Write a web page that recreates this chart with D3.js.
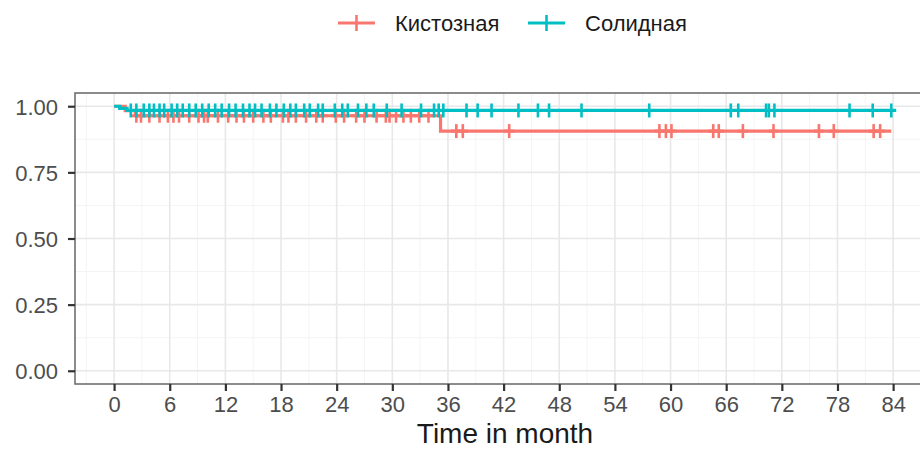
<!DOCTYPE html>
<html>
<head>
<meta charset="utf-8">
<script src="https://cdn.jsdelivr.net/npm/d3@7"></script>
<style>
  body { margin: 0; background: #fff; }
  text { font-family: "Liberation Sans", Arial, sans-serif; }
</style>
</head>
<body>
<div id="chart"></div>
<script>
// groups and colours
var groups = ["Кистозная", "Солидная"];
var colors = ["#F8766D", "#00BFC4"];

// survival steps (time, survival) per group
var cystT = [0, 1.2, 2.3, 35.2];
var cystS = [1, 0.983, 0.964, 0.906];
var cystEnd = 83.8;
var solidT = [0, 0.6, 1.4];
var solidS = [1, 0.992, 0.984];
var solidEnd = 84.3;

// censor times
var cystCens = [2.4, 2.9, 3.8, 4.9, 5.8, 6.4, 7.0, 8.1, 9.1, 9.7, 10.1, 11.2, 12.3, 13.2, 14.0,
  15.0, 16.1, 16.9, 18.2, 18.8, 19.6, 20.7, 21.8, 22.5, 23.9, 24.8, 26.1, 27.0, 28.3, 29.3,
  29.7, 30.4, 31.2, 32.0, 32.9, 33.9, 36.9, 37.6, 42.6, 58.8, 59.5, 60.1, 64.6, 65.2, 67.8,
  71.1, 76.0, 77.6, 81.9, 82.6];
var solidCens = [1.8, 2.4, 3.2, 3.8, 4.3, 4.9, 5.4, 6.2, 6.8, 7.4, 8.1, 8.8, 9.5, 10.2, 10.9,
  11.6, 12.4, 13.1, 13.9, 14.6, 15.2, 15.9, 16.8, 17.5, 18.3, 19.0, 19.6, 20.5, 21.1, 22.0,
  22.5, 23.8, 24.6, 25.2, 26.3, 27.2, 28.0, 29.4, 31.0, 33.1, 34.5, 35.0, 35.5, 38.0, 39.2,
  40.7, 43.6, 45.7, 46.9, 50.4, 57.7, 66.5, 67.3, 70.3, 70.6, 71.2, 79.3, 81.8, 83.8];

var xTicks = d3.range(0, 85, 6);
var yTicks = [0, 0.25, 0.5, 0.75, 1];

var W = 920, H = 450;
var panel = {left: 75, top: 93, right: 935, bottom: 384};

var svg = d3.select("#chart").append("svg")
    .attr("width", W).attr("height", H);

var x = d3.scaleLinear().domain([-4.215, 88.515]).range([panel.left, panel.right]);
var y = d3.scaleLinear().domain([-0.05, 1.05]).range([panel.bottom, panel.top]);

// grid
var minorX = d3.range(-3, 90, 6), minorY = [0.125, 0.375, 0.625, 0.875];
var grid = svg.append("g");
grid.selectAll(".mx").data(minorX).enter().append("line")
  .attr("x1", d => x(d)).attr("x2", d => x(d))
  .attr("y1", panel.top).attr("y2", panel.bottom)
  .attr("stroke", "#F4F4F4").attr("stroke-width", 1);
grid.selectAll(".my").data(minorY).enter().append("line")
  .attr("y1", d => y(d)).attr("y2", d => y(d))
  .attr("x1", panel.left).attr("x2", panel.right)
  .attr("stroke", "#F4F4F4").attr("stroke-width", 1);
grid.selectAll(".gx").data(xTicks).enter().append("line")
  .attr("x1", d => x(d)).attr("x2", d => x(d))
  .attr("y1", panel.top).attr("y2", panel.bottom)
  .attr("stroke", "#E8E8E8").attr("stroke-width", 1.6);
grid.selectAll(".gy").data(yTicks).enter().append("line")
  .attr("y1", d => y(d)).attr("y2", d => y(d))
  .attr("x1", panel.left).attr("x2", panel.right)
  .attr("stroke", "#E8E8E8").attr("stroke-width", 1.6);

// curves
function survAt(T, S, t) {
  var s = S[0];
  for (var i = 0; i < T.length; i++) if (T[i] <= t) s = S[i];
  return s;
}
function stepPts(T, S, end) {
  var pts = [];
  T.forEach(function(t, i) { pts.push([t, S[i]]); });
  pts.push([end, S[S.length - 1]]);
  return pts;
}
var series = [
  {pts: stepPts(cystT, cystS, cystEnd), cens: cystCens.map(t => [t, survAt(cystT, cystS, t)]), color: colors[0]},
  {pts: stepPts(solidT, solidS, solidEnd), cens: solidCens.map(t => [t, survAt(solidT, solidS, t)]), color: colors[1]}
];
var line = d3.line().x(d => x(d[0])).y(d => y(d[1])).curve(d3.curveStepAfter);

series.forEach(function(s) {
  var g = svg.append("g");
  g.append("path").datum(s.pts).attr("d", line)
    .attr("fill", "none").attr("stroke", s.color).attr("stroke-width", 3.2);
  g.selectAll(".cv").data(s.cens).enter().append("line")
    .attr("x1", d => x(d[0])).attr("x2", d => x(d[0]))
    .attr("y1", d => y(d[1]) - 7).attr("y2", d => y(d[1]) + 7)
    .attr("stroke", s.color).attr("stroke-width", 2.6);
  g.selectAll(".ch").data(s.cens).enter().append("line")
    .attr("x1", d => x(d[0]) - 5).attr("x2", d => x(d[0]) + 5)
    .attr("y1", d => y(d[1])).attr("y2", d => y(d[1]))
    .attr("stroke", s.color).attr("stroke-width", 3);
});

// panel border
svg.append("rect")
  .attr("x", panel.left).attr("y", panel.top)
  .attr("width", panel.right - panel.left).attr("height", panel.bottom - panel.top)
  .attr("fill", "none").attr("stroke", "#666").attr("stroke-width", 1.5);

// axes
var xAxis = svg.append("g").attr("transform", "translate(0," + panel.bottom + ")")
  .call(d3.axisBottom(x).tickValues(xTicks).tickSize(7).tickPadding(5));
var yAxis = svg.append("g").attr("transform", "translate(" + panel.left + ",0)")
  .call(d3.axisLeft(y).tickValues(yTicks).tickFormat(d3.format(".2f")).tickSize(7).tickPadding(10));
[xAxis, yAxis].forEach(function(a) {
  a.select(".domain").remove();
  a.selectAll(".tick line").attr("stroke", "#333").attr("stroke-width", 2.2);
  a.selectAll(".tick text").attr("fill", "#4D4D4D")
    .style("font-size", "22px").style("font-family", "'Liberation Sans', Arial, sans-serif");
});
yAxis.selectAll(".tick text").attr("dy", "0.36em");

svg.append("text")
  .attr("x", (panel.left + panel.right) / 2).attr("y", 443)
  .attr("text-anchor", "middle").attr("fill", "#1a1a1a")
  .style("font-size", "28px")
  .text("Time in month");

// legend
var legX = [338, 528];
var leg = svg.append("g");
groups.forEach(function(name, i) {
  var gx = legX[i], gy = 23;
  leg.append("line").attr("x1", gx).attr("x2", gx + 37).attr("y1", gy).attr("y2", gy)
    .attr("stroke", colors[i]).attr("stroke-width", 3.2);
  leg.append("line").attr("x1", gx + 18.5).attr("x2", gx + 18.5).attr("y1", gy - 8).attr("y2", gy + 8)
    .attr("stroke", colors[i]).attr("stroke-width", 2.6);
  leg.append("text").attr("x", gx + 57).attr("y", gy + 8)
    .attr("fill", "#1a1a1a").style("font-size", "22px").text(name);
});
</script>
</body>
</html>
